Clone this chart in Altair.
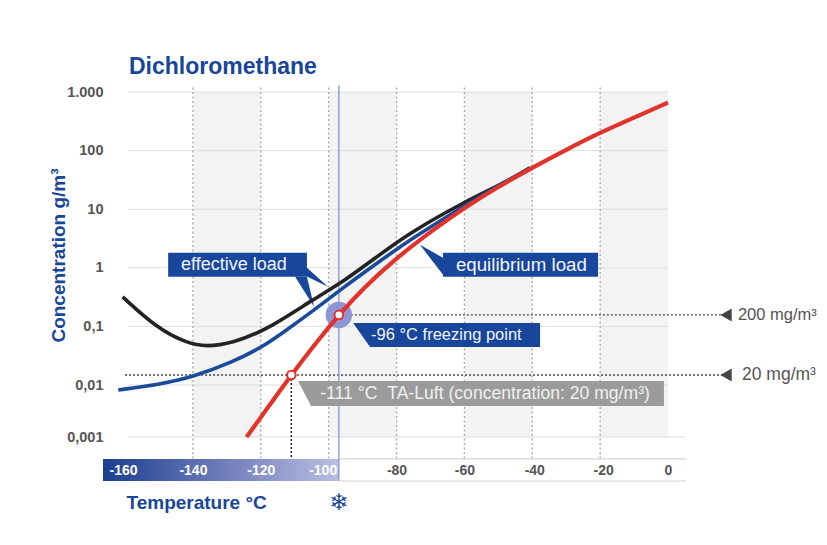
import altair as alt
import pandas as pd

NAVY = "#17469b"
BLUE = "#1a4a9c"
RED = "#e2332b"
BLACK = "#232323"
GREY = "#555555"

# curves: temperature in deg C, concentration in g/m3
red_t = [-124.2, -118, -111, -104, -97, -90, -80, -70, -60, -50, -40, -30, -20, -10, 0]
red_c = [0.001, 0.00361, 0.0148, 0.0502, 0.157, 0.438, 1.48, 4.12, 10.6, 24.2, 51.2, 104, 203, 366, 661]
blue_t = [-162, -150, -140, -128.3, -120, -113.6, -105, -97, -86, -76.1, -60.5, -50, -40]
blue_c = [0.00801, 0.0102, 0.0137, 0.0247, 0.0429, 0.0774, 0.177, 0.405, 1.17, 3.01, 11.0, 25.5, 51.2]
black_t = [-160.7, -150.7, -141.9, -136, -128.3, -118.2, -103.5, -97, -85, -76.1, -60.5, -47.5, -40.7]
black_c = [0.319, 0.0942, 0.0522, 0.0446, 0.0522, 0.0871, 0.319, 0.512, 1.67, 3.96, 12.9, 29.5, 51]

y_ticks = [1000, 100, 10, 1, 0.1, 0.01, 0.001]
x_ticks = [-160, -140, -120, -100, -80, -60, -40, -20, 0]
dotted_x = [-140, -120, -100, -80, -60, -40, -20]
shade_from = [-140, -100, -60, -20]
shade_to = [-120, -80, -40, 0]

xs = alt.Scale(domain=[-166.5, 5.3], nice=False, zero=False)
ys = alt.Scale(type="log", domain=[0.000142, 0.001, 0.01, 1317], range=[396, 352, 300, 0], nice=False)

x_axis = alt.Axis(values=x_ticks, grid=False, domain=False, ticks=False, tickSize=0, zindex=1,
                  labelPadding=-11, labelBaseline="middle", labelFont="Liberation Sans", labelFontWeight="bold",
                  labelFontSize=14, labelFlush=False, labelOverlap=False, labelBound=False,
                  labelExpr="'' + datum.value",
                  labelOffset={"condition": [{"test": "datum.value == -100", "value": -6},
                                             {"test": "datum.value == -160", "value": -2},
                                             {"test": "datum.value == -40", "value": 2},
                                             {"test": "datum.value == -20", "value": 3}], "value": 0},
                  labelColor={"condition": {"test": "datum.value <= -100", "value": "#ffffff"}, "value": GREY},
                  titleX=23, titleY=21, titleAlign="left", titleBaseline="middle", titleAnchor="start",
                  titleFont="Liberation Sans", titleFontWeight="bold", titleFontSize=19, titleColor=NAVY)
y_axis = alt.Axis(values=y_ticks, grid=False, domain=False, ticks=False, tickSize=0, zindex=1, labelPadding=0,
                  labelExpr="datum.value >= 1000 ? '1.000' : datum.value >= 1 ? format(datum.value, 'd') : replace(format(datum.value, '.' + (datum.value < 0.005 ? 3 : datum.value < 0.05 ? 2 : 1) + 'f'), '.', ',')",
                  labelFont="Liberation Sans", labelFontWeight="bold", labelFontSize=14.5, labelColor=GREY,
                  labelFlush=False, labelOverlap=False, labelBound=False,
                  titleX=-45, titleY=170, titleAngle=270, titleAlign="center", titleBaseline="middle",
                  titleFont="Liberation Sans", titleFontWeight="bold", titleFontSize=19, titleColor=NAVY)

X = lambda f="x": alt.X(f"{f}:Q", scale=xs, axis=x_axis, title="Temperature °C")
Y = lambda f="y": alt.Y(f"{f}:Q", scale=ys, axis=y_axis, title="Concentration g/m³")
X2 = alt.X2("x2:Q")
Y2 = alt.Y2("y2:Q")

def df(**k):
    return pd.DataFrame(k)

layers = []

# shaded columns
layers.append(alt.Chart(df(x=shade_from, x2=shade_to, y=[0.001] * 4, y2=[1000] * 4)).mark_rect(fill="#f3f3f3").encode(
    x=X(), x2=X2, y=Y(), y2=Y2))

# horizontal grid
layers.append(alt.Chart(df(y=y_ticks, x=[-159.2] * 7, x2=[0, 0, 0, 0, 0, 0, 5.3])).mark_rule(color="#dedede", strokeWidth=1).encode(
    x=X(), x2=X2, y=Y()))

# vertical dotted grid
layers.append(alt.Chart(df(x=dotted_x, y=[1194] * 7, y2=[0.000378] * 7)).mark_rule(color="#adadad", strokeWidth=1.4, strokeDash=[2, 2.5]).encode(
    x=X(), y=Y(), y2=Y2))

# temperature band
grad = alt.Gradient(gradient="linear", stops=[alt.GradientStop(color="#1a3f90", offset=0),
                                              alt.GradientStop(color="#7682bd", offset=0.55),
                                              alt.GradientStop(color="#b9bfe2", offset=1)], x1=0, x2=1, y1=0, y2=0)
layers.append(alt.Chart(df(x=[-166.5], x2=[-97], y=[0.000378], y2=[0.000142])).mark_rect(fill=grad).encode(
    x=X(), x2=X2, y=Y(), y2=Y2))
layers.append(alt.Chart(df(x=[-97, -97], x2=[5.3, 5.3], y=[0.000378, 0.000142])).mark_rule(color="#d4d4d4", strokeWidth=1.2).encode(
    x=X(), x2=X2, y=Y()))

# threshold lines
layers.append(alt.Chart(df(x=[-97, -160], x2=[15.9, 15.9], y=[0.157, 0.0148])).mark_rule(color="#444444", strokeWidth=1.4, strokeDash=[2, 2]).encode(
    x=X(), x2=X2, y=Y()))
layers.append(alt.Chart(df(x=[-111], y=[0.0148], y2=[0.000378])).mark_rule(color="#222222", strokeWidth=1.5, strokeDash=[2, 2]).encode(
    x=X(), y=Y(), y2=Y2))
layers.append(alt.Chart(df(x=[17.1, 17.1], y=[0.157, 0.0148])).mark_point(shape="triangle-left", filled=True, size=170, color="#444444", opacity=1).encode(
    x=X(), y=Y()))

# freezing line
layers.append(alt.Chart(df(x=[-97], y=[1290], y2=[0.000142])).mark_rule(color="#8c9cc8", strokeWidth=1.4).encode(
    x=X(), y=Y(), y2=Y2))

# halo
layers.append(alt.Chart(df(x=[-97], y=[0.157])).mark_point(shape="circle", filled=True, size=700, color="#8e95d4", opacity=1).encode(
    x=X(), y=Y()))

# callout pointers and boxes
def poly(rows, color):
    return alt.Chart(pd.DataFrame(rows, columns=["y", "x", "x2"])).mark_area(orient="horizontal", color=color, opacity=1).encode(
        y=Y(), x=X(), x2=X2)

layers.append(poly([[0.702, -109.9, -106.4], [0.216, -104.3, -104.3]], NAVY))
layers.append(poly([[1.0, -111.7, -106.4], [0.473, -100.2, -100.2]], NAVY))

# curves
for t, c, col, w in [(black_t, black_c, BLACK, 3.6), (blue_t, blue_c, BLUE, 3.6), (red_t, red_c, RED, 4.2)]:
    layers.append(alt.Chart(df(x=t, y=c)).mark_line(color=col, strokeWidth=w, interpolate="basis").encode(x=X(), y=Y()))

# boxes
layers.append(alt.Chart(df(x=[-147.3, -66.3], x2=[-106.4, -20.6], y=[1.80, 1.80], y2=[0.702, 0.702])).mark_rect(fill=NAVY).encode(
    x=X(), x2=X2, y=Y(), y2=Y2))
layers.append(alt.Chart(df(x=[-73.1, -66.3], y=[2.47, 1.48], y2=[2.47, 0.759])).mark_area(color=NAVY, opacity=1).encode(
    x=X(), y=Y(), y2=Y2))
layers.append(poly([[0.1148, -92.8, -37.7], [0.0446, -87.8, -37.7]], NAVY))
layers.append(poly([[0.0117, -109.0, -1.2], [0.00395, -105.2, -1.2]], "#9b9b9b"))

# open markers
layers.append(alt.Chart(df(x=[-97, -111], y=[0.157, 0.0148])).mark_point(shape="circle", filled=True, size=75, fill="#ffffff", stroke=RED, strokeWidth=2, opacity=1).encode(
    x=X(), y=Y()))

# texts
lab_x = [-143.5, -62.5, -87.5, -102.5, 20.6, 21.8]
lab_y = [1.125, 1.125, 0.0716, 0.00686, 0.157, 0.0148]
lab_t = ["effective load", "equilibrium load", "-96 °C freezing point", "-111 °C\u00a0\u00a0TA-Luft (concentration: 20 mg/m³)", "200 mg/m³", "20 mg/m³"]
lab_size = [18, 18.7, 16.5, 17.6, 16.5, 17.5]
lab_col = ["#f2f5fb", "#f2f5fb", "#f2f5fb", "#f0f0f0", GREY, GREY]
for a, b, c, d, e in zip(lab_x, lab_y, lab_t, lab_size, lab_col):
    layers.append(alt.Chart(df(x=[a], y=[b], t=[c])).mark_text(align="left", baseline="middle", font="Liberation Sans", fontSize=d, color=e).encode(
        x=X(), y=Y(), text="t:N"))
layers.append(alt.Chart(df(x=[-97], y=[0.0000537], t=["❄"])).mark_text(align="center", baseline="middle", font="DejaVu Sans", fontSize=23, color=NAVY).encode(
    x=X(), y=Y(), text="t:N"))

chart = alt.layer(*layers).properties(
    width=583, height=396,
    padding={"left": 95, "top": 77, "right": 133, "bottom": 56},
    autosize=alt.AutoSizeParams(type="none"),
    background="#ffffff",
    title=alt.TitleParams("Dichloromethane", anchor="start", frame="group", dx=26, offset=5, font="Liberation Sans",
                          fontWeight="bold", fontSize=23, color=NAVY),
).configure_view(stroke=None)

chart.save("out.html", embed_options={"renderer": "svg", "actions": False})
